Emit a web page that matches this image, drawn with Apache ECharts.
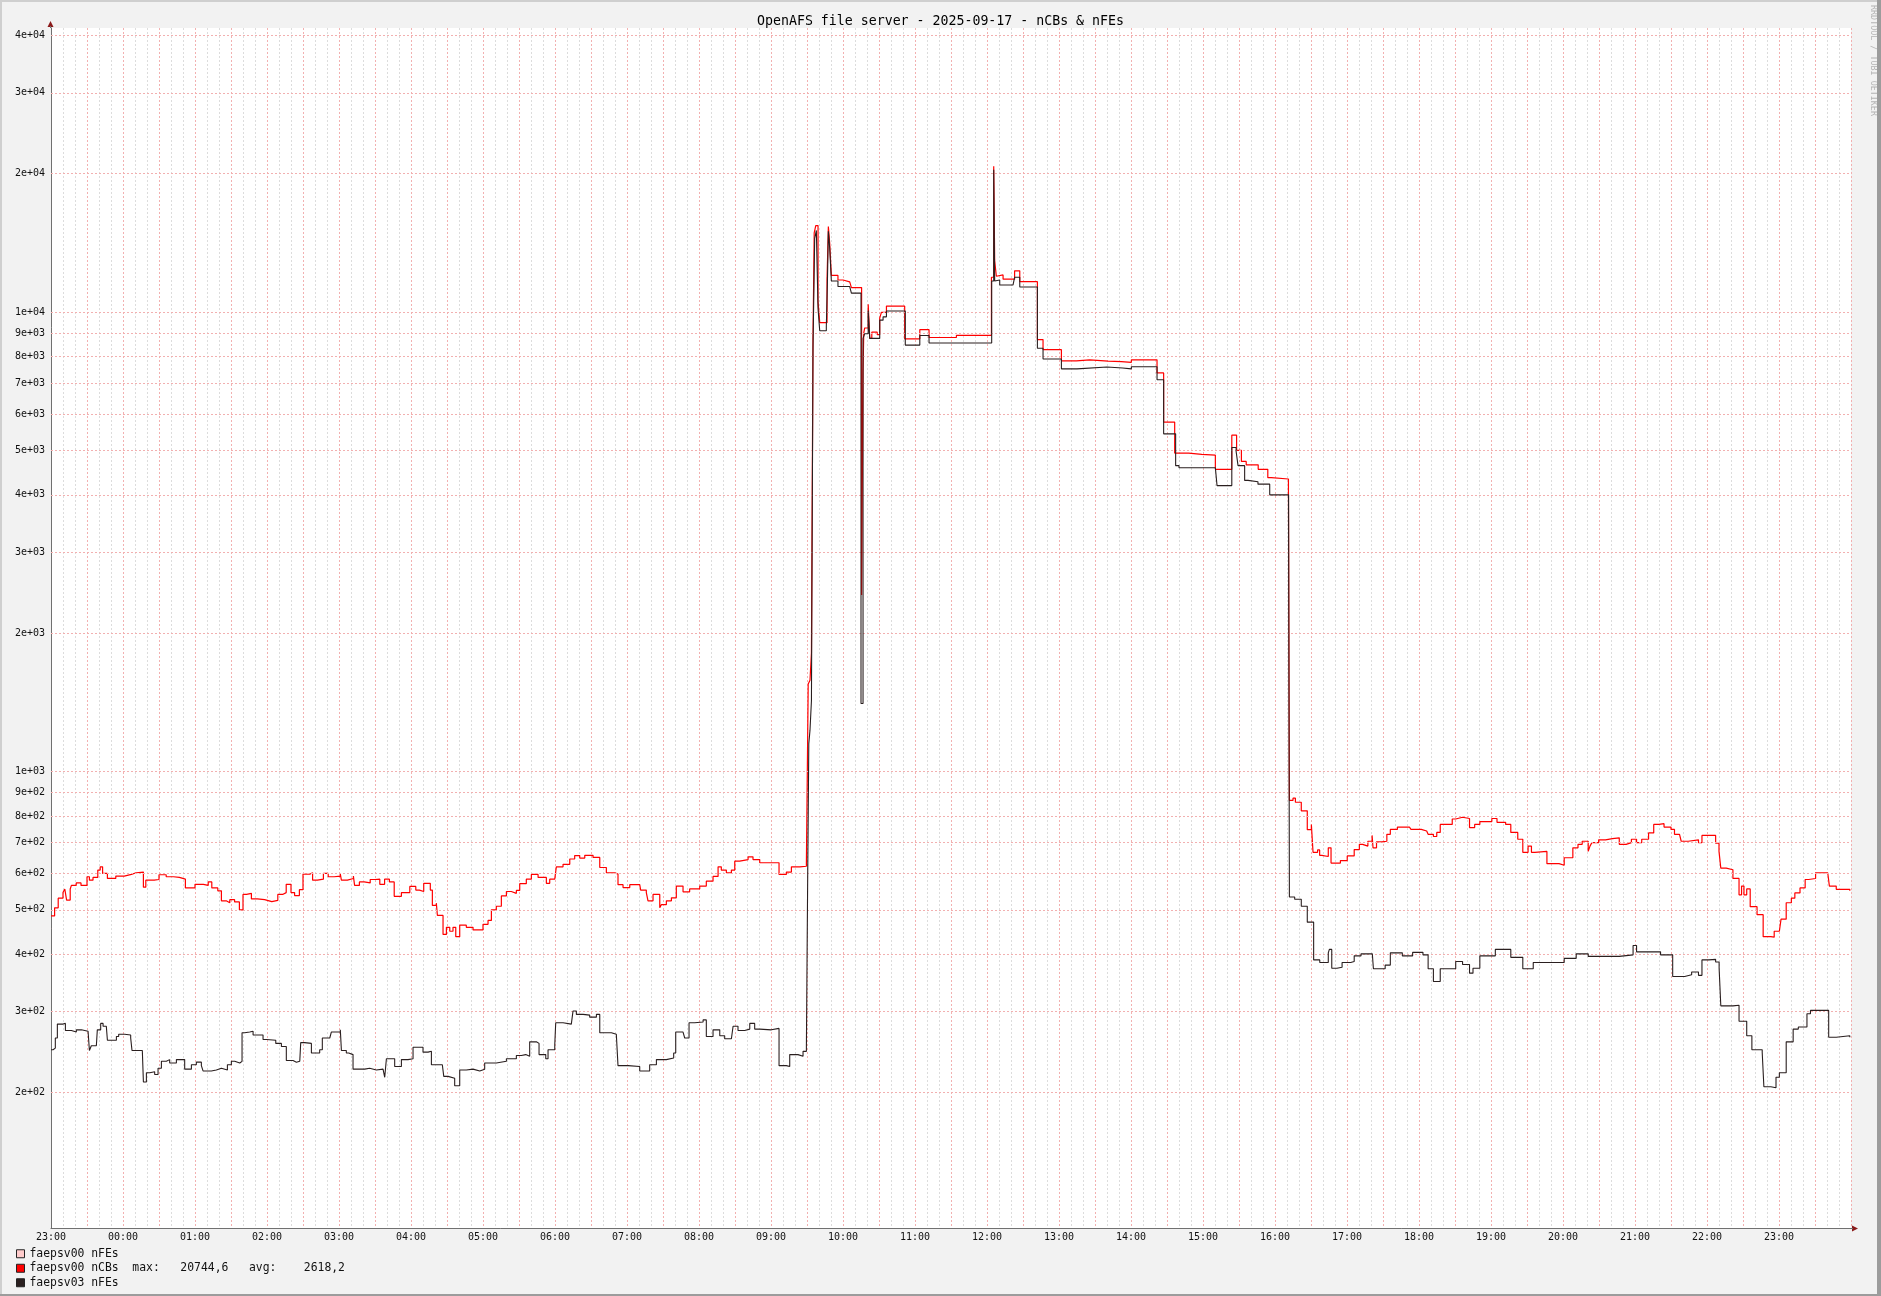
<!DOCTYPE html>
<html><head><meta charset="utf-8">
<script src="https://cdn.jsdelivr.net/npm/echarts@6/dist/echarts.min.js"></script>
<style>html,body{margin:0;padding:0;background:#f2f2f2}#c{width:1881px;height:1296px}</style>
</head><body><div id="c"></div>
<script>
const chartTitle = 'OpenAFS file server - 2025-09-17 - nCBs & nFEs';
const seriesNames = ['faepsv00 nFEs', 'faepsv00 nCBs', 'faepsv03 nFEs'];
const seriesColors = ['#ffcccc', '#ff0000', '#2a1f1f'];
const ncbsMaxText = '20744,6';
const ncbsAvgText = '2618,2';
const watermark = 'RRDTOOL / TOBI OETIKER';
// x values: minutes since 23:00 of the previous day
const xStartHour = 23;
const xMaxMinutes = 1500;
const yTickValues = [200,300,400,500,600,700,800,900,1000,2000,3000,4000,5000,6000,7000,8000,9000,10000,20000,30000,40000];
const yTickLabels = ['2e+02','3e+02','4e+02','5e+02','6e+02','7e+02','8e+02','9e+02','1e+03','2e+03','3e+03','4e+03','5e+03','6e+03','7e+03','8e+03','9e+03','1e+04','2e+04','3e+04','4e+04'];

const nfes00Points = [];

const ncbs00Points = [
[0,485],[3,505],[6,530],[10,545],[11.5,555],[13,525],[16,555],[17,565],[21,572],[25,565],[30,590],[32,580],[35,588],[39,610],[41,620],[43,600],[47,585],[54,592],[61,597],[67,602],[71,604],[77,560],[79,580],[86,582],[90,596],[96,590],[102,588],[107,583],[112,558],[120,568],[127,565],[131,575],[134,558],[139,550],[142,523],[146,518],[149,526],[153,520],[157,500],[160,540],[163,543],[167,528],[172,526],[178,521],[184,524],[189,540],[193,545],[196,568],[200,545],[203,537],[207,553],[210,598],[216,602],[218,580],[222,583],[227,600],[231,590],[236,592],[241,600],[242,580],[247,585],[252,592],[253,565],[257,575],[261,572],[266,582],[270,583],[274,568],[278,583],[282,575],[286,535],[292,545],[299,562],[304,552],
[307,548],[310.6,571],[316.1,552],[317.8,511],[321.1,517],[322,486],[326.7,442],[329.5,458],[332.3,449],[335,458],[337.3,437],[340.6,463],[346.1,458],[351.7,452],[360,465],[364.2,474],[367,500],[371.1,509],[375.3,536],[379.5,548],[383.6,543],[387.8,551],[390.6,570],[396.1,583],[400.3,597],[405.9,588],[412.8,571],[415.6,583],[419.8,585],[421.1,620],[426.7,628],[432.3,645],[436.4,656],[440.6,648],[444.8,657],[451.7,650],[457.3,618],[462.8,602],[469.8,598],[472.5,567],[476.7,559],[482.3,567],[490.6,571],[491.4,552],[496.1,545],[497.5,523],[501.7,540],[507.3,505],[508.6,513],[512.8,523],[517,531],[521.1,563],[526.7,547],[532.2,555],[540.6,563],[546.1,577],[551.7,591],[555.9,620],[558.6,610],[562.8,602],[567,610],[569.8,638],[573.9,643],[580.9,652],[585,643],[590.6,633],[601.7,633],[606.7,597],[612.8,604],[617,620],[624,622],[629.5,631],
[631,1550],[632.5,1580],[633.7,1810],[635,8760],[636,14860],[637.3,15420],[639.2,10540],[640.6,9480],[646.7,11780],[647.8,15350],[648.9,14130],[650.3,12010],[655.8,11740],[660,11630],[665.6,11530],[667,11300],[675.5,2420],[676.7,7413],[677.3,9010],[678.1,9230],[681,10390],[682.3,8760],[684,9040],[688.5,8930],[690.6,9700],[692,9980],[696.2,10300],[711.4,8740],[724,9150],[731.7,8800],[754.5,8890],[783.7,11900],[785.6,20744.6],[786.4,12930],[787.8,11960],[789.2,12040],[793.4,11790],[803,12290],[807.3,11640],[822,8710],[826.7,8280],[842,7830],[854.5,7870],[865.6,7820],[880.9,7800],[892,7770],[900.3,7870],[921.7,7370],[927.2,5760],[936.4,4930],[948,4900],[959,4880],[970.3,4545],[984,5395],[988,5000],[992,4730],[996,4650],[1006,4545],[1014,4360],[1017,4330],[1031.2,4130],
[1032,865],[1035,875],[1037,857],[1041.9,821],[1046.9,747],[1050.3,767],[1051.7,667],[1055.5,675],[1057.2,657],[1059,653],[1064.4,682],[1066.7,632],[1074.5,640],[1080.2,655],[1086,676],[1090.3,694],[1093,688],[1097.4,705],[1100.9,726],[1101.7,682],[1104.6,703],[1109,705],[1113.2,730],[1116.1,748],[1122,757],[1132,755],[1133.3,748],[1141.9,742],[1146.4,748],[1147.6,730],[1152,722],[1154.8,737],[1157.7,767],[1167.7,788],[1170.6,795],[1176.3,790],[1182.1,755],[1186.4,767],[1190.7,778],[1200.7,790],[1205,775],[1212.2,767],[1216.5,737],[1222.3,712],[1226.5,667],[1230.9,688],[1233.7,667],[1236.6,670],[1246.6,630],[1256.7,625],[1261,649],[1268.2,682],[1272.5,694],[1276,705],[1281,670],[1282.5,688],[1284,700],[1289.7,710],[1295.4,714],[1301.2,717],[1306.9,694],[1312.6,700],[1317,712],[1321.3,700],[1325.6,712],[1331.3,735],[1335.6,767],[1340,770],[1344.2,757],[1350,748],[1352.9,730],[1357.1,737],[1358.5,705],[1364.3,710],[1372.9,700],[1375.8,726],[1387.2,698],[1390,670],[1391.5,616],[1396,611],[1401.6,585],[1406.7,539],[1408.8,563],[1410.8,539],[1413.1,555],[1416,508],[1421.7,488],[1426.8,437],[1433.2,436],[1436,449],[1440.3,452],[1441.7,477],[1446,518],[1450.3,530],[1453.2,544],[1457.5,558],[1461.8,582],[1464.7,585],[1470.5,602],[1480.6,605],[1482,563],[1487.7,554],[1499,550]
];

const nfes03Points = [
[0,248],[1.7,250],[3.6,263],[5.3,282],[10,283],[12,273],[17,271],[21.1,274],[25.3,272],[30.9,270],[32,247],[33.6,253],[37.8,252],[38.6,274],[41.4,283],[43.4,279],[46.1,278],[47,260],[51.7,260],[54.5,265],[56.4,268],[61.4,267],[66.4,263],[67.5,247],[76.1,246],[77,211],[79.5,221],[82.3,222],[86.4,219],[89.2,226],[92,234],[96.1,236],[98.9,232],[104.5,236],[111.4,225],[117,230],[121.1,233],[125.3,229],[126.7,223],[133.6,224],[137.8,226],[142,224],[147,230],[150.3,234],[153.1,232],[157.3,234],[159.2,270],[161.4,271],[165.6,272],[168.4,267],[176.7,261],[179.5,260],[187.3,256],[192,252],[196.1,235],[201.7,233],[204.5,234],[207.3,232],[208.1,257],[211.4,256],[217,244],[223.9,248],[226.1,263],[232.3,261],[233.6,271],[241.1,274],[242,247],[246.1,244],[248.1,242],[251.7,225],[261.4,226],[265.6,224],[271.1,225],[276.7,224],[278.1,216],[279.5,237],[286.4,228],[292,236],[297.5,237],[301.7,251],[310,245],
[314.2,246],[317,230],[326.1,229],[327.3,217],[330.9,215],[336.4,207],[340.6,224],[346.1,225],[351.7,223],[357.3,225],[361.4,232],[371.1,234],[379.5,237],[387.8,241],[392,242],[395.6,240],[398.9,258],[404.5,256],[406.7,242],[412.3,237],[414.2,248],[419.8,254],[420.6,284],[426.7,282],[433.6,284],[435,301],[437.8,296],[443.4,295],[448.9,292],[454.5,296],[457.3,270],[467,268],[471.1,267],[472.5,229],[480.9,228],[490.6,223],[498.9,230],[504.5,236],[512.8,238],[518.9,244],[520.6,271],[526.7,272],[528.1,263],[531.7,284],[536.4,285],[543.4,288],[546.1,265],[551.7,274],[557.3,266],[561.4,262],[567,261],[568.4,279],[572.5,273],[578.1,275],[582.3,283],[586.4,275],[590.6,274],[600.3,276],[606.7,229],[612.8,228],[615.6,242],[622.5,240],[626.7,246],[629.5,252],
[630.5,558],[631.5,1150],[632.5,1230],[633.7,1426],[635,8360],[636.4,14460],[637.8,15050],[639.2,10160],[640.6,9100],[646.1,9300],[647,11570],[647.8,14990],[648.9,13800],[650.3,11680],[655.8,11360],[665.6,11250],[667,10990],[675,1406],[676.7,8760],[678.1,8970],[681,10070],[682.3,8760],[690.6,9600],[693.4,9760],[696.2,10050],[711.9,8470],[724,8890],[731.7,8560],[783.9,11680],[785.6,20400],[786.4,11680],[787.8,11740],[790.6,11450],[801.7,11400],[803,11900],[807.3,11330],[822,8340],[826.7,7900],[842,7520],[855,7590],[880,7550],[893,7520],[900.3,7600],[921.7,7120],[927.2,5430],[937.2,4630],[940,4580],[970.3,4545],[971.7,4190],[984,5070],[987.6,4975],[989.2,4630],[994.7,4300],[997.5,4270],[1005.8,4220],[1015.6,4000],[1031.3,3860],
[1032,533],[1036.4,527],[1041.9,509],[1046.9,470],[1052.2,389],[1057.3,384],[1064.4,403],[1065.3,410],[1067.3,373],[1071.6,375],[1075.9,384],[1083.1,386],[1086,397],[1091.7,401],[1101.1,403],[1102,372],[1111.8,379],[1116.1,403],[1126.1,397],[1134.7,404],[1143.3,399],[1147.6,372],[1152,349],[1157.7,372],[1170.6,386],[1176.3,380],[1182.1,364],[1185,373],[1190.7,397],[1203.6,410],[1216.5,394],[1226.5,372],[1235.2,384],[1261,392],[1271,401],[1281,396],[1306.9,399],[1318.4,418],[1321.3,405],[1341.3,399],[1351.4,358],[1361.4,361],[1367.2,366],[1372.9,360],[1375.8,389],[1381.5,390],[1387.2,385],[1390.1,373],[1391.5,309],[1401.6,310],[1406.7,286],[1413.1,266],[1417.4,248],[1426,245],[1427.4,206],[1433.2,205],[1437.5,216],[1440.3,221],[1446,258],[1451.8,275],[1456.1,278],[1463.3,297],[1466.2,302],[1481.4,264],[1487.7,266],[1499,264]
];

const MONO = 'DejaVu Sans Mono';
const chart = echarts.init(document.getElementById('c'), null, {renderer: 'canvas'});

function hourLabel(v) {
  if (v % 60 !== 0 || v >= xMaxMinutes) return '';
  const h = (xStartHour + v / 60) % 24;
  return (h < 10 ? '0' : '') + h + ':00';
}

const lineSeries = [nfes00Points, ncbs00Points, nfes03Points].map((pts, i) => ({
  name: seriesNames[i],
  type: 'line',
  step: 'end',
  data: pts,
  showSymbol: false,
  symbol: 'none',
  z: 3 + i,
  color: seriesColors[i],
  lineStyle: {color: seriesColors[i], width: i === 1 ? 1.2 : 1.1},
  emphasis: {disabled: true},
  animation: false
}));

const gridSeries = {
  name: 'ygrid',
  type: 'line',
  data: [],
  z: 1,
  silent: true,
  animation: false,
  markLine: {
    silent: true,
    animation: false,
    symbol: ['none', 'none'],
    lineStyle: {color: '#f2b0b0', type: [2, 2], width: 1},
    label: {position: 'start', distance: 6, fontFamily: MONO, fontSize: 10, color: '#111'},
    emphasis: {disabled: true},
    data: yTickValues.map((v, i) => ({yAxis: v, label: {formatter: yTickLabels[i]}}))
  }
};

const option = {
  backgroundColor: '#f2f2f2',
  animation: false,
  title: {
    text: chartTitle, left: 'center', top: 10,
    textStyle: {fontFamily: MONO, fontSize: 13.25, fontWeight: 'normal', color: '#000'}
  },
  grid: {left: 51, right: 30, top: 28, bottom: 68, show: true, backgroundColor: '#ffffff', borderWidth: 0},
  xAxis: {
    type: 'value', min: 0, max: xMaxMinutes, interval: 30,
    axisLine: {show: true, lineStyle: {color: '#707070', width: 1}},
    axisTick: {show: false},
    minorTick: {show: false, splitNumber: 3},
    axisLabel: {
      show: true, interval: 0, hideOverlap: false, margin: 4,
      fontFamily: MONO, fontSize: 10, color: '#111', formatter: hourLabel,
      showMinLabel: true, showMaxLabel: true
    },
    splitLine: {show: true, lineStyle: {color: '#f2b0b0', type: [2, 2], width: 1}},
    minorSplitLine: {show: true, lineStyle: {color: '#dcdcdc', type: [2, 2], width: 1}}
  },
  yAxis: {
    type: 'log', logBase: 10, min: 101.5, max: 41500,
    axisLine: {show: true, lineStyle: {color: '#707070', width: 1}},
    axisTick: {show: false},
    axisLabel: {show: false},
    splitLine: {show: false}
  },
  legend: {
    data: seriesNames,
    orient: 'vertical', left: 16, top: 1247, padding: 0,
    itemWidth: 8, itemHeight: 8, itemGap: 1,
    icon: 'rect', selectedMode: false,
    itemStyle: {borderColor: '#222', borderWidth: 1},
    textStyle: {fontFamily: MONO, fontSize: 11.4, color: '#111', lineHeight: 13.5},
    formatter: function (name) {
      if (name === seriesNames[1]) return name + '  max:   ' + ncbsMaxText + '   avg:    ' + ncbsAvgText;
      return name;
    }
  },
  graphic: [
    {type: 'polygon', silent: true, shape: {points: [[50.5, 21], [47.5, 27], [53.5, 27]]}, style: {fill: '#8b1a1a'}},
    {type: 'polygon', silent: true, shape: {points: [[1858, 1228.5], [1852, 1225.5], [1852, 1231.5]]}, style: {fill: '#8b1a1a'}},
    {type: 'line', silent: true, shape: {x1: 50.5, y1: 26, x2: 50.5, y2: 28}, style: {stroke: '#707070', lineWidth: 1}},
    {type: 'line', silent: true, shape: {x1: 1851, y1: 1228.5, x2: 1853, y2: 1228.5}, style: {stroke: '#707070', lineWidth: 1}},
    {type: 'text', silent: true, x: 1873, y: 5, rotation: -Math.PI / 2,
      style: {text: watermark, font: '8.4px "DejaVu Sans Mono"', fill: '#b4b4b4', align: 'left', verticalAlign: 'middle'}},
    {type: 'rect', silent: true, shape: {x: 0, y: 0, width: 1881, height: 2}, style: {fill: '#cfcfcf'}},
    {type: 'rect', silent: true, shape: {x: 0, y: 0, width: 2, height: 1296}, style: {fill: '#cfcfcf'}},
    {type: 'rect', silent: true, shape: {x: 1877, y: 0, width: 4, height: 1296}, style: {fill: '#9c9c9c'}},
    {type: 'rect', silent: true, shape: {x: 0, y: 1294, width: 1881, height: 2}, style: {fill: '#9c9c9c'}}
  ],
  series: [gridSeries].concat(lineSeries)
};
chart.setOption(option);
</script>
</body></html>
